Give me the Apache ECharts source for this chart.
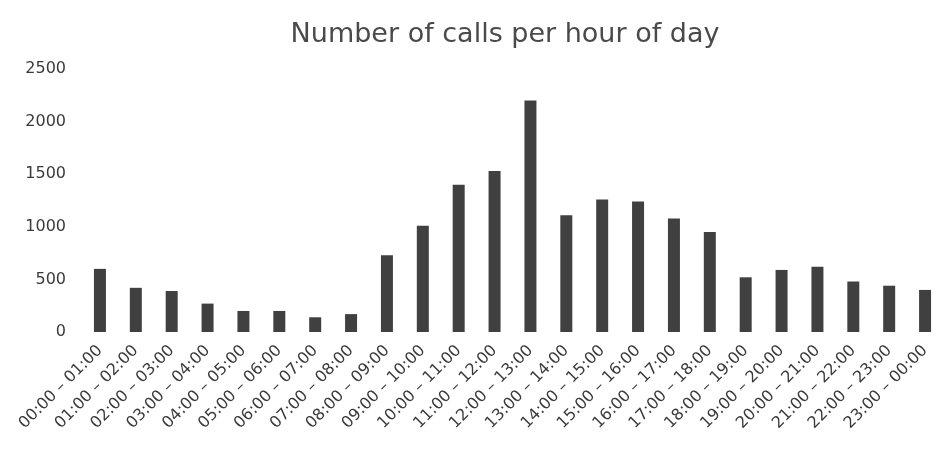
<!DOCTYPE html>
<html>
<head>
<meta charset="utf-8">
<script src="https://cdn.jsdelivr.net/npm/echarts@6/dist/echarts.min.js"></script>
<style>html,body{margin:0;padding:0;background:#fff}#c{width:943px;height:452px}</style>
</head>
<body>
<div id="c"></div>
<script>
const titleText = 'Number of calls per hour of day';
const categories = ['00:00 – 01:00','01:00 – 02:00','02:00 – 03:00','03:00 – 04:00','04:00 – 05:00','05:00 – 06:00','06:00 – 07:00','07:00 – 08:00','08:00 – 09:00','09:00 – 10:00','10:00 – 11:00','11:00 – 12:00','12:00 – 13:00','13:00 – 14:00','14:00 – 15:00','15:00 – 16:00','16:00 – 17:00','17:00 – 18:00','18:00 – 19:00','19:00 – 20:00','20:00 – 21:00','21:00 – 22:00','22:00 – 23:00','23:00 – 00:00'];
const calls = [600, 420, 390, 270, 200, 200, 140, 170, 730, 1010, 1400, 1530, 2200, 1110, 1260, 1240, 1080, 950, 520, 590, 620, 480, 440, 400];
const yTicks = [0, 500, 1000, 1500, 2000, 2500];

const chart = echarts.init(document.getElementById('c'), null, {renderer: 'canvas'});
chart.setOption({
  animation: false,
  backgroundColor: '#ffffff',
  title: {
    text: titleText,
    left: 500,
    textAlign: 'center',
    top: 16,
    textStyle: {fontFamily: 'DejaVu Sans', fontSize: 27, fontWeight: 'normal', color: '#4a4a4a'}
  },
  grid: {left: 82, top: 69, width: 871, bottom: 120, containLabel: false},
  xAxis: {
    type: 'category',
    data: categories,
    axisLine: {show: false},
    axisTick: {show: false},
    axisLabel: {interval: 0, rotate: 45, margin: 16, fontFamily: 'DejaVu Sans', fontSize: 16, color: '#3a3a3a'}
  },
  yAxis: {
    type: 'value',
    min: yTicks[0],
    max: yTicks[yTicks.length - 1],
    interval: 500,
    splitLine: {show: false},
    axisLine: {show: false},
    axisTick: {show: false},
    axisLabel: {margin: 16, fontFamily: 'DejaVu Sans', fontSize: 16, color: '#3a3a3a', formatter: function (v) { return String(v); }}
  },
  series: [{
    type: 'bar',
    data: calls,
    barWidth: 12,
    itemStyle: {color: '#404040'}
  }]
});
</script>
</body>
</html>
